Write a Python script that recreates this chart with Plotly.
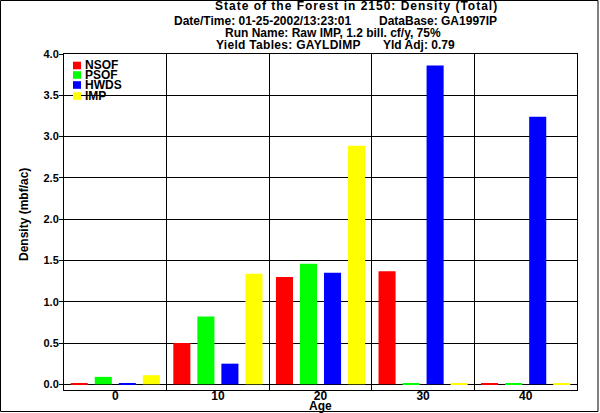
import plotly.graph_objects as go

ages = ["0", "10", "20", "30", "40"]
series_names = ["NSOF", "PSOF", "HWDS", "IMP"]
nsof = [0.01, 0.50, 1.30, 1.37, 0.01]
psof = [0.09, 0.82, 1.46, 0.01, 0.01]
hwds = [0.01, 0.25, 1.35, 3.86, 3.24]
imp = [0.11, 1.34, 2.89, 0.01, 0.01]
colors = ["#FF0000", "#00FF00", "#0000FF", "#FFFF00"]
y_ticks = [0.0, 0.5, 1.0, 1.5, 2.0, 2.5, 3.0, 3.5, 4.0]

FONT = "Liberation Sans, Arial, sans-serif"
W, H = 600, 413
L, R, T, B = 64, 23, 54, 23
PW, PH = W - L - R, H - T - B

def px(xp):
    return (xp - L) / PW

def py(yp):
    return (H - B - yp) / PH

fig = go.Figure()
for name, vals, col in zip(series_names, [nsof, psof, hwds, imp], colors):
    fig.add_trace(go.Bar(x=ages, y=vals, name=name, marker=dict(color=col, line=dict(width=0)),
                         showlegend=False))

annotations = []
# title lines: (text, x center, y center, letter spacing)
title_parts = [
    ("State of the Forest in 2150: Density (Total)", 356, 6.5, 1.0),
    ("Date/Time: 01-25-2002/13:23:01", 262.5, 20.5, 0),
    ("DataBase: GA1997IP", 437.5, 20.5, 0),
    ("Run Name: Raw IMP, 1.2 bill. cf/y, 75%", 332.5, 33, 0),
    ("Yield Tables: GAYLDIMP", 288, 45.5, 0.3),
    ("Yld Adj: 0.79", 418.5, 45.5, 0),
]
for txt, xc, yc, ls in title_parts:
    if ls:
        t = '<span style="letter-spacing:%spx"><b>%s</b></span>' % (ls, txt)
    else:
        t = "<b>%s</b>" % txt
    annotations.append(dict(text=t, x=px(xc), y=py(yc), xref="paper", yref="paper",
                            xanchor="center", yanchor="middle", showarrow=False,
                            font=dict(family=FONT, size=12, color="black")))

# manual legend
shapes = []
leg_y = [65.5, 75, 85, 96]
for name, col, yc in zip(series_names, colors, leg_y):
    shapes.append(dict(type="rect", xref="paper", yref="paper", x0=px(73), x1=px(81),
                       y0=py(yc - 3.8), y1=py(yc + 3.8), fillcolor=col, line=dict(width=0), layer="above"))
    annotations.append(dict(text="<b>%s</b>" % name, x=px(83), y=py(yc - 0.5), xref="paper", yref="paper",
                            xanchor="left", yanchor="middle", showarrow=False,
                            font=dict(family=FONT, size=12, color="black")))

# axis titles
annotations.append(dict(text="<b>Age</b>", x=px(320.5), y=py(405.5), xref="paper", yref="paper",
                        xanchor="center", yanchor="middle", showarrow=False,
                        font=dict(family=FONT, size=12, color="black")))
annotations.append(dict(text="<b>Density (mbf/ac)</b>", x=px(24), y=py(215), xref="paper", yref="paper",
                        xanchor="center", yanchor="middle", showarrow=False, textangle=-90,
                        font=dict(family=FONT, size=12, color="black")))

# outer border
shapes.append(dict(type="rect", xref="paper", yref="paper", x0=px(0.5), x1=px(598), y0=py(0.5), y1=py(411.5),
                   line=dict(color="black", width=1), fillcolor="rgba(0,0,0,0)", layer="above"))

fig.update_layout(
    template="none",
    width=W, height=H,
    margin=dict(l=L, r=R, t=T, b=B, pad=0, autoexpand=False),
    paper_bgcolor="white", plot_bgcolor="white",
    barmode="group", bargap=0.063, bargroupgap=0.29,
    showlegend=False,
    font=dict(family=FONT, size=11, color="black"),
    annotations=annotations, shapes=shapes,
    xaxis=dict(type="category", categoryorder="array", categoryarray=ages,
               tickvals=ages, ticktext=["<b>%s</b>" % a for a in ages],
               tickson="boundaries", showgrid=True, gridcolor="black", gridwidth=1,
               ticks="", showline=True, linecolor="black", linewidth=1, mirror=True,
               range=[-0.5, 4.5], tickfont=dict(family=FONT, size=12, color="black"),
               automargin=False, ticklabelstandoff=-5, fixedrange=True),
    yaxis=dict(range=[-0.069, 4.0], tickvals=y_ticks,
               ticktext=["<b>%.1f</b>" % v for v in y_ticks],
               showgrid=True, gridcolor="black", gridwidth=1, zeroline=False,
               ticks="outside", ticklen=4, tickcolor="black", tickwidth=1,
               showline=True, linecolor="black", linewidth=1, mirror=True,
               tickfont=dict(family=FONT, size=11, color="black"),
               automargin=False, ticklabelstandoff=-2, fixedrange=True),
)

fig.write_html("out.html", config={"displayModeBar": False},
               post_script="document.body.style.margin='0px';document.body.style.overflow='hidden';")
